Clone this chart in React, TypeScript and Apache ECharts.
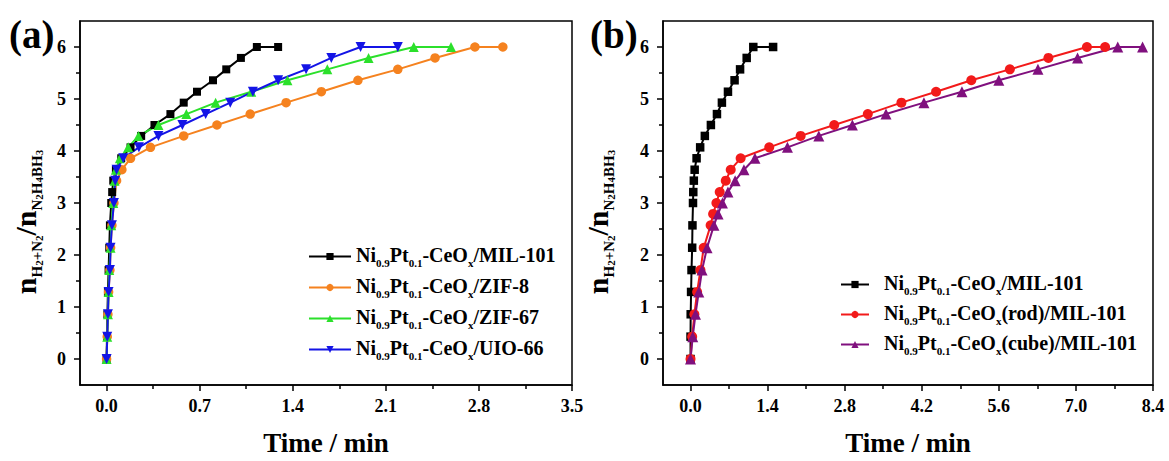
import { useEffect, useRef } from 'react';
import * as echarts from 'echarts';

// ---------- tick labels ----------
const xTicksA = [0, 0.7, 1.4, 2.1, 2.8, 3.5];
const xTicksB = [0, 1.4, 2.8, 4.2, 5.6, 7.0, 8.4];
const yTicks = [0, 1, 2, 3, 4, 5, 6];

// ---------- panel (a) ----------
const aMilT = [0, 0.003, 0.006, 0.01, 0.015, 0.02, 0.025, 0.035, 0.042, 0.05, 0.07, 0.11, 0.18, 0.26, 0.36, 0.48, 0.58, 0.68, 0.8, 0.9, 1.01, 1.13, 1.29];
const aMilV = [0, 0.43, 0.86, 1.29, 1.71, 2.14, 2.57, 3.0, 3.21, 3.43, 3.64, 3.86, 4.07, 4.29, 4.5, 4.71, 4.93, 5.14, 5.36, 5.57, 5.79, 6, 6];

const aZif8T = [0, 0.005, 0.01, 0.015, 0.025, 0.03, 0.04, 0.055, 0.075, 0.115, 0.18, 0.33, 0.58, 0.83, 1.08, 1.35, 1.615, 1.89, 2.19, 2.47, 2.77, 2.98];
const aZif8V = [0, 0.43, 0.86, 1.29, 1.71, 2.14, 2.57, 3.0, 3.43, 3.64, 3.86, 4.07, 4.29, 4.5, 4.71, 4.93, 5.14, 5.36, 5.57, 5.79, 6, 6];

const aZif67T = [0, 0.005, 0.01, 0.015, 0.02, 0.03, 0.035, 0.05, 0.06, 0.07, 0.1, 0.163, 0.24, 0.39, 0.6, 0.82, 1.088, 1.36, 1.66, 1.97, 2.31, 2.59];
const aZif67V = [0, 0.43, 0.86, 1.29, 1.71, 2.14, 2.57, 3.0, 3.43, 3.64, 3.86, 4.07, 4.29, 4.5, 4.71, 4.93, 5.14, 5.36, 5.57, 5.79, 6, 6];

const aUioT = [0, 0.005, 0.01, 0.015, 0.025, 0.03, 0.04, 0.055, 0.065, 0.075, 0.125, 0.243, 0.39, 0.57, 0.745, 0.93, 1.1, 1.29, 1.5, 1.69, 1.91, 2.19];
const aUioV = [0, 0.43, 0.86, 1.29, 1.71, 2.14, 2.57, 3.0, 3.43, 3.64, 3.86, 4.07, 4.29, 4.5, 4.71, 4.93, 5.14, 5.36, 5.57, 5.79, 6, 6];

// ---------- panel (b) ----------
const bMilT = [0, 0, 0.003, 0.01, 0.018, 0.03, 0.035, 0.045, 0.05, 0.06, 0.075, 0.11, 0.175, 0.26, 0.37, 0.48, 0.57, 0.68, 0.8, 0.9, 1.02, 1.14, 1.5];
const bMilV = [0, 0.43, 0.86, 1.29, 1.71, 2.14, 2.57, 3.0, 3.21, 3.43, 3.64, 3.86, 4.07, 4.29, 4.5, 4.71, 4.93, 5.14, 5.36, 5.57, 5.79, 6, 6];

const bRodT = [0, 0.03, 0.07, 0.12, 0.18, 0.24, 0.365, 0.41, 0.47, 0.53, 0.64, 0.73, 0.91, 1.43, 2.0, 2.61, 3.22, 3.83, 4.46, 5.1, 5.8, 6.5, 7.2, 7.53];
const bRodV = [0, 0.43, 0.86, 1.29, 1.71, 2.14, 2.57, 2.79, 3.0, 3.21, 3.43, 3.64, 3.86, 4.07, 4.29, 4.5, 4.71, 4.93, 5.14, 5.36, 5.57, 5.79, 6, 6];

const bCubeT = [0, 0.04, 0.09, 0.15, 0.21, 0.3, 0.425, 0.5, 0.58, 0.68, 0.81, 0.97, 1.17, 1.76, 2.33, 2.94, 3.55, 4.24, 4.93, 5.6, 6.31, 7.03, 7.76, 8.21];
const bCubeV = [0, 0.43, 0.86, 1.29, 1.71, 2.14, 2.57, 2.79, 3.0, 3.21, 3.43, 3.64, 3.86, 4.07, 4.29, 4.5, 4.71, 4.93, 5.14, 5.36, 5.57, 5.79, 6, 6];

const FONT = '"Liberation Serif", "Times New Roman", serif';

const pairs = (t: number[], v: number[]) => t.map((x, i) => [x, v[i]]);
const mids = (ticks: number[]) => ticks.slice(0, -1).map((v, i) => +((v + ticks[i + 1]) / 2).toFixed(3));

const legendLabel = (suffix: string, pad: boolean) =>
  (pad ? '{sp| }' : '') + `{t|Ni}{s|0.9}{t|Pt}{s|0.1}{t|-CeO}{s|x}{t|${suffix}}`;

const legendNames: Record<string, string> = {
  aMIL: legendLabel('/MIL-101', false),
  aZIF8: legendLabel('/ZIF-8', false),
  aZIF67: legendLabel('/ZIF-67', false),
  aUIO: legendLabel('/UIO-66', false),
  bMIL: legendLabel('/MIL-101', true),
  bROD: legendLabel('(rod)/MIL-101', true),
  bCUBE: legendLabel('(cube)/MIL-101', true),
};

const legendRich = {
  t: { fontFamily: FONT, fontWeight: 'bold', fontSize: 20, color: '#000', verticalAlign: 'top', lineHeight: 22 },
  s: { fontFamily: FONT, fontWeight: 'bold', fontSize: 11, color: '#000', verticalAlign: 'top', padding: [12, 0, 0, 0] },
  sp: { width: 10, fontSize: 10 },
};

const yNameText = '{n|n}{s|H}{ss|2}{s|+N}{ss|2}{n|/n}{s|N}{ss|2}{s|H}{ss|4}{s|BH}{ss|3}';
const yNameRich = {
  n: { fontFamily: FONT, fontWeight: 'bold', fontSize: 30, fill: '#000', verticalAlign: 'top', lineHeight: 31 },
  s: { fontFamily: FONT, fontWeight: 'bold', fontSize: 15, fill: '#000', verticalAlign: 'top', padding: [19, 0, 0, 0] },
  ss: { fontFamily: FONT, fontWeight: 'bold', fontSize: 11, fill: '#000', verticalAlign: 'top', padding: [23, 0, 0, 0] },
};

const tickLabelStyle = { fontFamily: FONT, fontWeight: 'bold', fontSize: 18, color: '#000' };
const lineBlack = { color: '#000', width: 1.5 };

function mainX(gridIndex: number, min: number, max: number, ticks: number[]) {
  return {
    type: 'value', gridIndex, min, max, position: 'bottom',
    axisLine: { show: true, onZero: false, lineStyle: lineBlack },
    axisTick: { show: true, customValues: ticks, length: 6, lineStyle: lineBlack },
    axisLabel: { show: true, customValues: ticks, margin: 12, formatter: (v: number) => v.toFixed(1), ...tickLabelStyle },
    splitLine: { show: false },
    name: 'Time / min', nameLocation: 'middle', nameGap: 44,
    nameTextStyle: { fontFamily: FONT, fontWeight: 'bold', fontSize: 27, color: '#000' },
  };
}
function minorX(gridIndex: number, min: number, max: number, ticks: number[]) {
  return {
    type: 'value', gridIndex, min, max, position: 'bottom',
    axisLine: { show: false, onZero: false },
    axisTick: { show: true, customValues: mids(ticks), length: 4, lineStyle: lineBlack },
    axisLabel: { show: false },
    splitLine: { show: false },
  };
}
function mainY(gridIndex: number) {
  return {
    type: 'value', gridIndex, min: -0.5, max: 6.5, position: 'left',
    axisLine: { show: true, onZero: false, lineStyle: lineBlack },
    axisTick: { show: true, customValues: yTicks, length: 6, lineStyle: lineBlack },
    axisLabel: { show: true, customValues: yTicks, margin: 14, formatter: (v: number) => String(v), ...tickLabelStyle },
    splitLine: { show: false },
  };
}
function minorY(gridIndex: number) {
  return {
    type: 'value', gridIndex, min: -0.5, max: 6.5, position: 'left',
    axisLine: { show: false, onZero: false },
    axisTick: { show: true, customValues: mids(yTicks), length: 4, lineStyle: lineBlack },
    axisLabel: { show: false },
    splitLine: { show: false },
  };
}

function series(name: string, axis: number, t: number[], v: number[], color: string, symbol: string, size: number, rotate = 0) {
  return {
    type: 'line', name, xAxisIndex: axis, yAxisIndex: axis,
    data: pairs(t, v),
    symbol, symbolSize: size, symbolRotate: rotate,
    lineStyle: { color, width: 2 },
    itemStyle: { color },
    emphasis: { disabled: true },
  };
}

export default function App() {
  const ref = useRef<HTMLDivElement>(null);
  useEffect(() => {
    if (!ref.current) return;
    const chart = echarts.init(ref.current, null, { renderer: 'svg' });
    chart.setOption({
      animation: false,
      backgroundColor: '#fff',
      grid: [
        { left: 80, top: 21, width: 492, height: 364, show: true, borderColor: '#000', borderWidth: 1.5, containLabel: false, outerBoundsMode: 'none' },
        { left: 663, top: 21, width: 490, height: 364, show: true, borderColor: '#000', borderWidth: 1.5, containLabel: false, outerBoundsMode: 'none' },
      ],
      xAxis: [mainX(0, -0.2, 3.5, xTicksA), minorX(0, -0.2, 3.5, xTicksA), mainX(1, -0.5, 8.4, xTicksB), minorX(1, -0.5, 8.4, xTicksB)],
      yAxis: [mainY(0), minorY(0), mainY(1), minorY(1)],
      legend: [
        {
          left: 303, top: 240, orient: 'vertical', itemWidth: 42, itemHeight: 9, itemGap: 8,
          selectedMode: false, data: ['aMIL', 'aZIF8', 'aZIF67', 'aUIO'],
          formatter: (n: string) => legendNames[n], textStyle: { rich: legendRich },
        },
        {
          left: 835, top: 268, orient: 'vertical', itemWidth: 28, itemHeight: 9, itemGap: 7,
          selectedMode: false, data: ['bMIL', 'bROD', 'bCUBE'],
          formatter: (n: string) => legendNames[n], textStyle: { rich: legendRich },
        },
      ],
      graphic: [
        { type: 'text', x: 9, y: 34, style: { text: '(a)', fontFamily: FONT, fontWeight: 'bold', fontSize: 39, fill: '#000', align: 'left', verticalAlign: 'middle' } },
        { type: 'text', x: 590, y: 34, style: { text: '(b)', fontFamily: FONT, fontWeight: 'bold', fontSize: 39, fill: '#000', align: 'left', verticalAlign: 'middle' } },
        { type: 'text', x: 27, y: 222, rotation: Math.PI / 2, style: { text: yNameText, rich: yNameRich, align: 'center', verticalAlign: 'middle' } },
        { type: 'text', x: 599, y: 222, rotation: Math.PI / 2, style: { text: yNameText, rich: yNameRich, align: 'center', verticalAlign: 'middle' } },
      ],
      series: [
        series('aMIL', 0, aMilT, aMilV, '#000000', 'rect', 8),
        series('aZIF8', 0, aZif8T, aZif8V, '#F5821F', 'circle', 9.5),
        series('aZIF67', 0, aZif67T, aZif67V, '#2BE02B', 'triangle', 10),
        series('aUIO', 0, aUioT, aUioV, '#1414E6', 'triangle', 10, 180),
        series('bMIL', 2, bMilT, bMilV, '#000000', 'rect', 8.5),
        series('bROD', 2, bRodT, bRodV, '#F21A1A', 'circle', 10),
        series('bCUBE', 2, bCubeT, bCubeV, '#80107E', 'triangle', 11),
      ],
    });
    return () => chart.dispose();
  }, []);
  return <div ref={ref} style={{ position: 'fixed', left: 0, top: 0, width: 1169, height: 461, background: '#fff' }} />;
}
